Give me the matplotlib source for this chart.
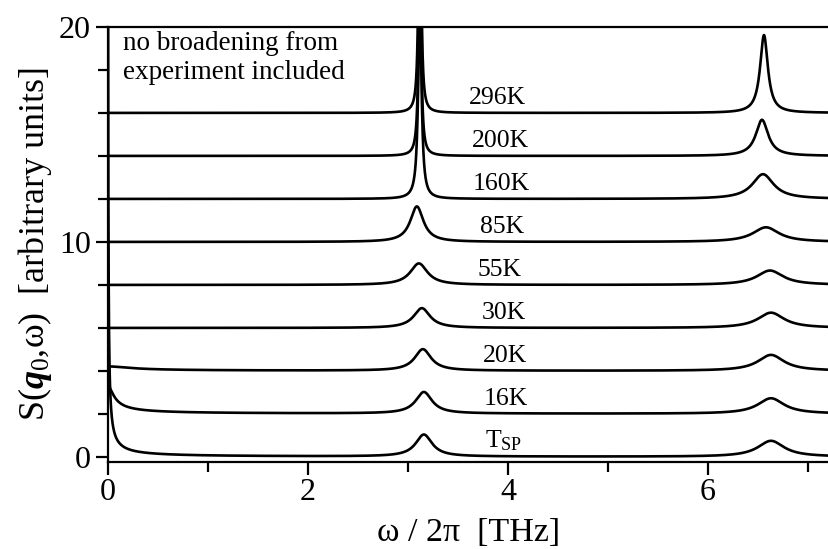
import numpy as np
import matplotlib
matplotlib.use('Agg')
import matplotlib.pyplot as plt

# ── fonts (Times-like) ─────────────────────────────────────
plt.rcParams['font.family'] = ['Liberation Serif', 'DejaVu Serif']
plt.rcParams['mathtext.fontset'] = 'custom'
plt.rcParams['mathtext.rm'] = 'Liberation Serif'
plt.rcParams['mathtext.it'] = 'Liberation Serif:italic'
plt.rcParams['mathtext.bf'] = 'Liberation Serif:bold'
plt.rcParams['mathtext.bfit'] = 'Liberation Serif:italic:bold'

# ── data ───────────────────────────────────────────────────
labels    = ['T$_{\\rm SP}$', '16K', '20K', '30K', '55K', '85K', '160K', '200K', '296K']
offsets   = [0, 2, 4, 6, 8, 10, 12, 14, 16]

# central (quasi-elastic) peak: amplitude at ω=0 and width
cen_amp   = [100.0, 1.3, 0.21, 0, 0, 0, 0, 0, 0]
cen_wid   = [0.00075, 0.052, 0.2, 1, 1, 1, 1, 1, 1]

# first phonon peak (~3.1 THz): centre, height, half width
p1_pos    = [3.16, 3.16, 3.15, 3.14, 3.11, 3.09, 3.12, 3.12, 3.12]
p1_amp    = [1.02, 1.0, 1.0, 0.92, 1.0, 1.65, 9.0, 10.0, 17.0]
p1_wid    = [0.10, 0.10, 0.10, 0.10, 0.105, 0.08, 0.02, 0.015, 0.012]

# second phonon peak (~6.6 THz)
p2_pos    = [6.63, 6.63, 6.63, 6.63, 6.62, 6.58, 6.55, 6.54, 6.56]
p2_amp    = [0.74, 0.72, 0.74, 0.71, 0.67, 0.68, 1.15, 1.68, 3.62]
p2_wid    = [0.16, 0.16, 0.16, 0.16, 0.16, 0.16, 0.13, 0.075, 0.047]

# label x positions (THz)
lab_x     = [3.96, 3.98, 3.97, 3.96, 3.92, 3.94, 3.93, 3.93, 3.90]

# evaluation grid (fine near ω=0 for the narrow central peak)
w = np.concatenate([np.linspace(0, 0.02, 400), np.linspace(0.02, 7.3, 5000)])


def lorentz(x, x0, a, g):
    return a * g**2 / ((x - x0)**2 + g**2)


def central(x, a, g):
    return a * g / np.sqrt(x**2 + g**2)


fig = plt.figure(figsize=(8.29, 5.49), dpi=100)
ax = fig.add_axes([0.130, 0.159, 0.870, 0.792])

for i in range(len(labels)):
    s = (offsets[i]
         + central(w, cen_amp[i], cen_wid[i])
         + lorentz(w, p1_pos[i], p1_amp[i], p1_wid[i])
         + lorentz(w, p2_pos[i], p2_amp[i], p2_wid[i]))
    ax.plot(w, s, color='black', lw=1.9, solid_joinstyle='round')
    ax.text(lab_x[i], offsets[i] + 0.18, labels[i], fontsize=18.5,
            ha='center', va='bottom')

ax.text(0.15, 19.8, 'no broadening from\nexperiment included',
        fontsize=19.5, ha='left', va='top', linespacing=1.2)

ax.set_xlim(0, 7.21)
ax.set_ylim(-0.22, 20)
ax.set_xticks([0, 2, 4, 6])
ax.set_xticks([1, 3, 5, 7], minor=True)
ax.set_yticks([0, 10, 20])
ax.set_yticks([2, 4, 6, 8, 12, 14, 16, 18], minor=True)

ax.spines['right'].set_visible(False)
for sp in ['left', 'bottom', 'top']:
    ax.spines[sp].set_linewidth(1.6)
ax.tick_params(which='both', direction='out', width=1.6, top=False, right=False,
               labelsize=23)
ax.tick_params(which='major', length=9, pad=3)
ax.tick_params(which='minor', length=7)

ax.set_xlabel('ω / 2π  [THz]', fontsize=24.5, labelpad=7)
ax.set_ylabel(r'S($\boldsymbol{q}_0$,ω)  [arbitrary units]', fontsize=26, labelpad=4)

fig.savefig('out.png', dpi=100)
